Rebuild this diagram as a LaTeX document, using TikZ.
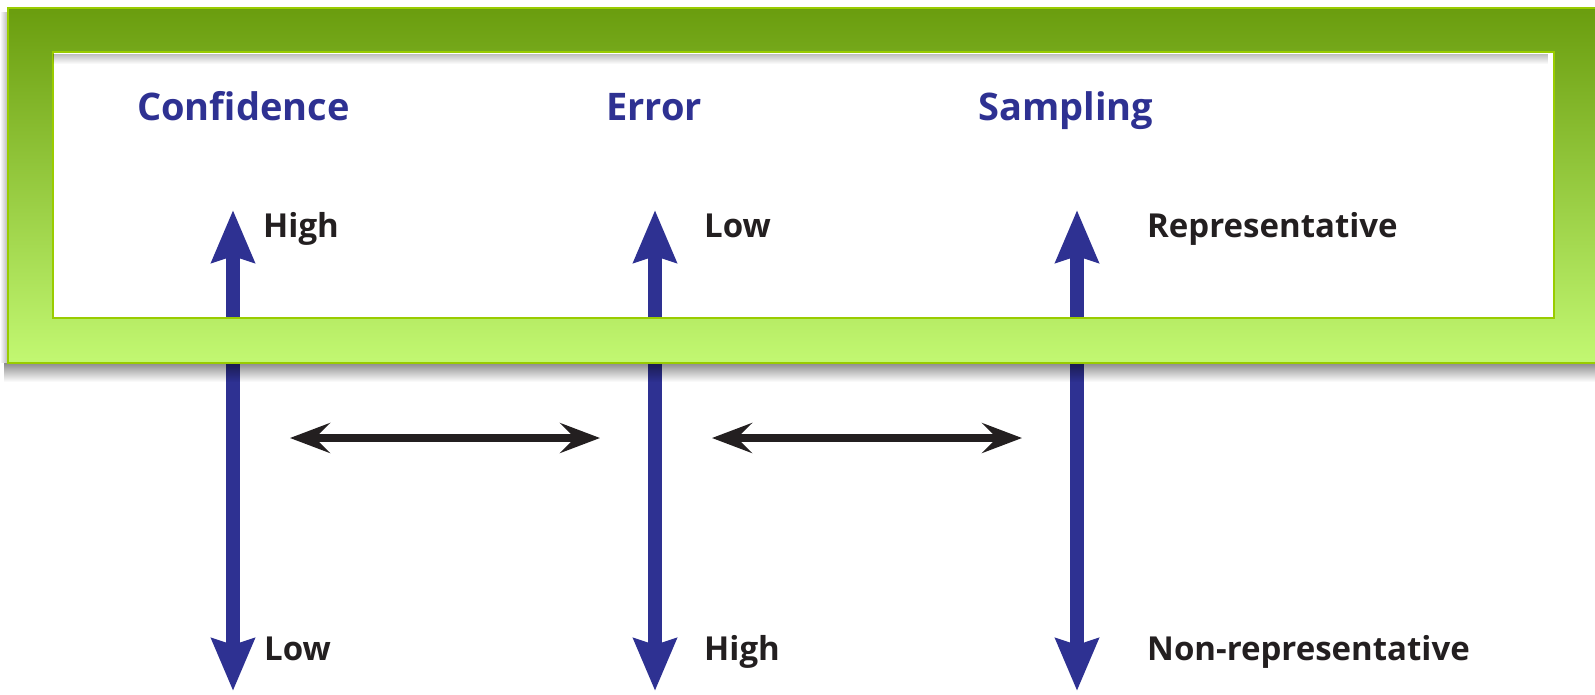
\documentclass[tikz,border=0pt]{standalone}
\usepackage{fontspec}
\setmainfont{Open Sans}
\usetikzlibrary{arrows.meta,fadings}
\definecolor{titleblue}{HTML}{2E3192}
\definecolor{axisblue}{HTML}{2E3192}
\definecolor{labelink}{HTML}{231F20}
\definecolor{frametop}{HTML}{6A9D0E}
\definecolor{framebot}{HTML}{C2F872}
\definecolor{frameedge}{HTML}{99CC00}
\tikzfading[name=shadowdown, top color=transparent!55, bottom color=transparent!100]
\tikzfading[name=shadowleft, right color=transparent!70, left color=transparent!100]
\tikzset{
  heading/.style={anchor=base west, inner sep=0pt, text=titleblue,
    font=\bfseries\fontsize{38}{40}\selectfont},
  level/.style={anchor=base west, inner sep=0pt, text=labelink,
    font=\bfseries\fontsize{33}{38}\selectfont},
  axistip/.tip={Stealth[length=52pt,width=42pt,inset=6pt]},
  linktip/.tip={Stealth[length=40pt,width=30pt,inset=15pt]},
  axis/.style={draw=axisblue, line width=14pt, axistip-axistip},
  link/.style={draw=labelink, line width=7.5pt, linktip-linktip},
  edge/.style={draw=frameedge, line width=2.5pt},
}
\begin{document}
\begin{tikzpicture}[x=1pt,y=-1pt]
\useasboundingbox (0,0) rectangle (1595,694);
\fill[white] (0,0) rectangle (1595,694);

% ends of the three scales and of the two links
\coordinate (cTop) at (233,210);  \coordinate (cBot) at (233,691);
\coordinate (eTop) at (655,210);  \coordinate (eBot) at (655,691);
\coordinate (sTop) at (1077,210); \coordinate (sBot) at (1077,691);
\coordinate (l1a) at (290,438);   \coordinate (l1b) at (600,438);
\coordinate (l2a) at (712,438);   \coordinate (l2b) at (1022,438);

% vertical scales
\draw[axis] (cBot) -- (cTop);
\draw[axis] (eBot) -- (eTop);
\draw[axis] (sBot) -- (sTop);

% links between the scales
\draw[link] (l1a) -- (l1b);
\draw[link] (l2a) -- (l2b);

% shadows of the green frame
\fill[black, path fading=shadowdown] (6,363) rectangle (1600,382);
\fill[black, path fading=shadowleft] (0,12) rectangle (8,363);

% green frame band (scales pass beneath it)
\begin{scope}
  \clip (8,8) rectangle (1600,52)
        (8,318) rectangle (1600,363)
        (8,52) rectangle (53,318)
        (1554,52) rectangle (1600,318);
  \shade[top color=frametop, bottom color=framebot] (8,8) rectangle (1600,363);
\end{scope}
\draw[edge] (8,8) rectangle (1600,363);
\draw[edge] (53,52) rectangle (1554,318);

% inner shadow at the top of the white panel
\fill[black, opacity=0.6, path fading=shadowdown] (54.5,53.5) rectangle (1552.5,64);

% headings
\node[heading] (conf) at (137,120) {Confidence};
\node[heading] (err)  at (606,120) {Error};
\node[heading] (samp) at (978,120) {Sampling};

% scale labels
\node[level] (confHi) at (263,237)  {High};
\node[level] (errLo)  at (704,237)  {Low};
\node[level] (sampHi) at (1147,237) {Representative};
\node[level] (confLo) at (264,660)  {Low};
\node[level] (errHi)  at (704,660)  {High};
\node[level] (sampLo) at (1147,660) {Non-representative};
\end{tikzpicture}
\end{document}
